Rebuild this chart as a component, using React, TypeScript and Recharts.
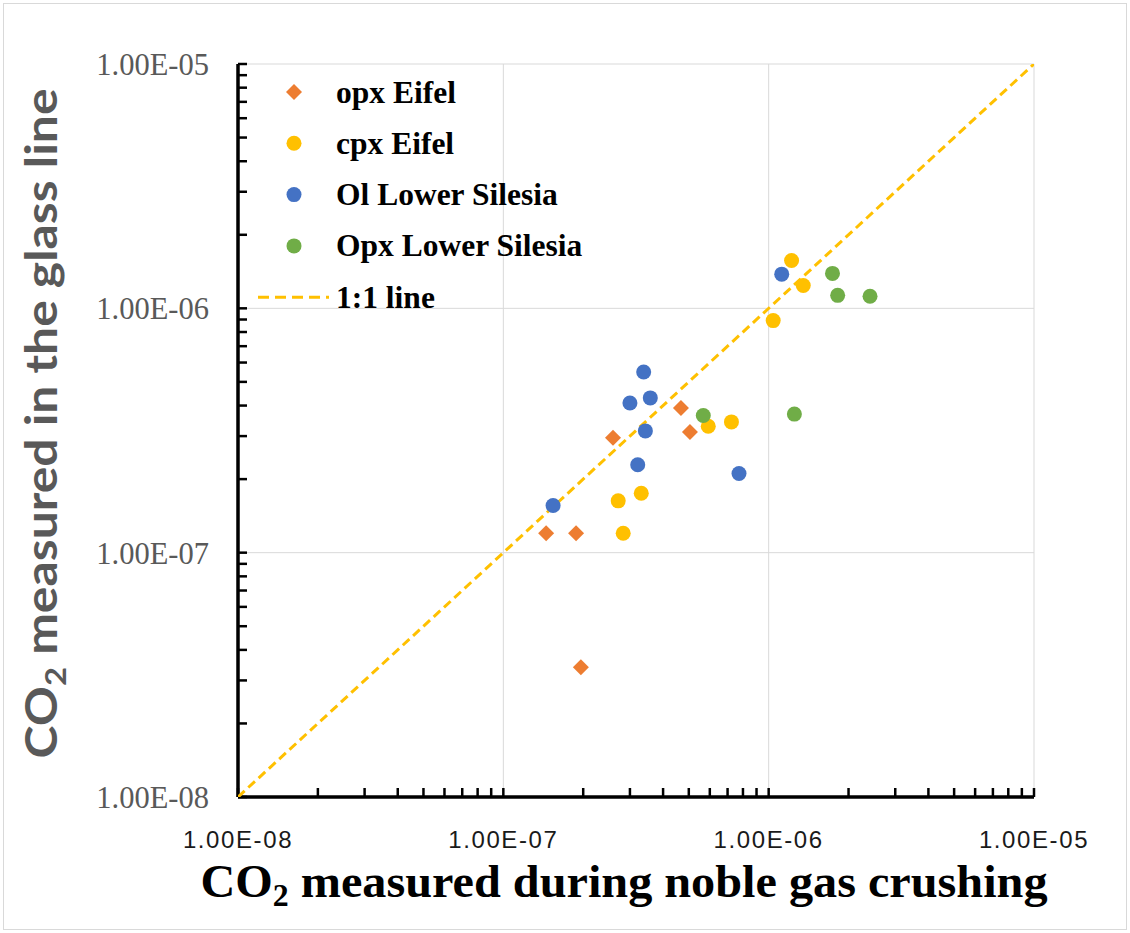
import React from 'react';
import { ScatterChart, Scatter, XAxis, YAxis, ReferenceLine, Legend } from 'recharts';

// ---- data ----
const opxEifelX = [1.45e-7, 1.88e-7, 2.59e-7, 4.67e-7, 5.05e-7, 1.96e-7];
const opxEifelY = [1.2e-7, 1.2e-7, 2.95e-7, 3.91e-7, 3.12e-7, 3.4e-8];

const cpxEifelX = [2.71e-7, 3.31e-7, 2.83e-7, 5.92e-7, 7.24e-7, 1.04e-6, 1.22e-6, 1.35e-6];
const cpxEifelY = [1.63e-7, 1.75e-7, 1.2e-7, 3.29e-7, 3.43e-7, 8.91e-7, 1.57e-6, 1.24e-6];

const olLowerSilesiaX = [3.38e-7, 3.0e-7, 3.58e-7, 3.43e-7, 3.21e-7, 1.54e-7, 7.73e-7, 1.12e-6];
const olLowerSilesiaY = [5.49e-7, 4.1e-7, 4.3e-7, 3.15e-7, 2.29e-7, 1.56e-7, 2.11e-7, 1.38e-6];

const opxLowerSilesiaX = [5.67e-7, 1.25e-6, 1.74e-6, 1.82e-6, 2.41e-6];
const opxLowerSilesiaY = [3.64e-7, 3.69e-7, 1.39e-6, 1.13e-6, 1.12e-6];

const oneToOneX = [1e-8, 1e-5];
const oneToOneY = [1e-8, 1e-5];

const majorTicks = [1e-8, 1e-7, 1e-6, 1e-5];
const minorMultipliers = [2, 3, 4, 5, 6, 7, 8, 9];

const xTitle = ['CO', '2', ' measured during noble gas crushing'];
const yTitle = ['CO', '2', ' measured in the glass line'];

// ---- helpers ----
const zip = (xs: number[], ys: number[]) => xs.map((x, i) => ({ x, y: ys[i] }));

const allTicks: number[] = [];
majorTicks.forEach((d, i) => {
  allTicks.push(d);
  if (i < majorTicks.length - 1) minorMultipliers.forEach((m) => allTicks.push(d * m));
});

const isMajor = (v: number) => Math.abs(Math.log10(v) - Math.round(Math.log10(v))) < 1e-6;
const fmt = (v: number) => {
  const e = Math.round(Math.log10(v));
  const sign = e < 0 ? '-' : '+';
  return `1.00E${sign}${String(Math.abs(e)).padStart(2, '0')}`;
};

const series = [
  { name: 'opx Eifel', color: '#ED7D31', kind: 'diamond', data: zip(opxEifelX, opxEifelY) },
  { name: 'cpx Eifel', color: '#FFC000', kind: 'circle', data: zip(cpxEifelX, cpxEifelY) },
  { name: 'Ol Lower Silesia', color: '#4472C4', kind: 'circle', data: zip(olLowerSilesiaX, olLowerSilesiaY) },
  { name: 'Opx Lower Silesia', color: '#70AD47', kind: 'circle', data: zip(opxLowerSilesiaX, opxLowerSilesiaY) },
];
const lineColor = '#FFC000';

const Marker = ({ cx, cy, kind, color }: any) => {
  if (cx == null || cy == null) return <g />;
  if (kind === 'diamond') {
    const r = 8;
    return <polygon points={`${cx},${cy - r} ${cx + r},${cy} ${cx},${cy + r} ${cx - r},${cy}`} fill={color} />;
  }
  return <circle cx={cx} cy={cy} r={7.5} fill={color} />;
};

const XTick = (props: any) => {
  const { x, y, payload } = props;
  if (!isMajor(payload.value)) return <g />;
  return (
    <text x={x} y={y + 60} textAnchor="middle" fontFamily="'Liberation Sans', Arial, sans-serif" fontSize={24} letterSpacing={1.6} fill="#1a1a1a">
      {fmt(payload.value)}
    </text>
  );
};

const YTick = (props: any) => {
  const { x, y, payload } = props;
  if (!isMajor(payload.value)) return <g />;
  return (
    <text x={x - 38} y={y + 11} textAnchor="end" fontFamily="'Liberation Serif', 'Times New Roman', serif" fontSize={30.5} fill="#595959">
      {fmt(payload.value)}
    </text>
  );
};

const XTitle = (props: any) => {
  const vb = props.viewBox || { x: 238, y: 797, width: 796, height: 60 };
  const cx = vb.x + vb.width / 2 - 12;
  const by = vb.y + 100;
  return (
    <text x={cx} y={by} textAnchor="middle" fontFamily="'Liberation Serif', 'Times New Roman', serif" fontWeight="bold" fontSize={47} fill="#000" textLength={847} lengthAdjust="spacingAndGlyphs">
      {xTitle[0]}
      <tspan fontSize={31} dy={9}>{xTitle[1]}</tspan>
      <tspan dy={-9}>{xTitle[2]}</tspan>
    </text>
  );
};

const YTitle = (props: any) => {
  const vb = props.viewBox || { x: 88, y: 64, width: 150, height: 733 };
  const bx = vb.x - 31;
  const cy = vb.y + vb.height / 2 - 7;
  return (
    <text x={bx} y={cy} transform={`rotate(-90, ${bx}, ${cy})`} textAnchor="middle" fontFamily="Lato, 'Open Sans', sans-serif" fontWeight="bold" fontSize={44} fill="#595959" textLength={670} lengthAdjust="spacingAndGlyphs">
      {yTitle[0]}
      <tspan fontSize={29} dy={9}>{yTitle[1]}</tspan>
      <tspan dy={-9}>{yTitle[2]}</tspan>
    </text>
  );
};

const LegendBox = () => {
  const rows = [...series.map((s) => ({ name: s.name, color: s.color, kind: s.kind })), { name: '1:1 line', color: lineColor, kind: 'line' }];
  return (
    <svg width={380} height={260} style={{ display: 'block' }}>
      {rows.map((r, i) => {
        const cy = 22 + i * 51.3;
        return (
          <g key={r.name}>
            {r.kind === 'line' ? (
              <line x1={8} x2={79} y1={cy} y2={cy} stroke={r.color} strokeWidth={3} strokeDasharray="11 6" />
            ) : (
              <Marker cx={44} cy={cy} kind={r.kind} color={r.color} />
            )}
            <text x={86} y={cy + 10.5} fontFamily="'Liberation Serif', 'Times New Roman', serif" fontWeight="bold" fontSize={31.5} fill="#000">
              {r.name}
            </text>
          </g>
        );
      })}
    </svg>
  );
};

export default function App() {
  return (
    <div style={{ position: 'absolute', left: 0, top: 0, width: 1130, height: 933, background: '#fff' }}>
      <div style={{ position: 'absolute', left: 3, top: 3, width: 1122, height: 925, border: '1px solid #d9d9d9' }} />
      <ScatterChart width={1130} height={933} margin={{ top: 64, right: 96, bottom: 76, left: 88 }}>
        <XAxis
          dataKey="x"
          type="number"
          scale="log"
          domain={[1e-8, 1e-5]}
          allowDataOverflow
          ticks={allTicks}
          interval={0}
          tickSize={-9}
          tickMargin={0}
          height={60}
          axisLine={{ stroke: '#000', strokeWidth: 3.5 }}
          tickLine={{ stroke: '#000', strokeWidth: 2.5 }}
          tick={<XTick />}
          label={<XTitle />}
        />
        <YAxis
          dataKey="y"
          type="number"
          scale="log"
          domain={[1e-8, 1e-5]}
          allowDataOverflow
          ticks={allTicks}
          interval={0}
          tickSize={-9}
          tickMargin={0}
          width={150}
          axisLine={{ stroke: '#000', strokeWidth: 3.5 }}
          tickLine={{ stroke: '#000', strokeWidth: 2.5 }}
          tick={<YTick />}
          label={<YTitle />}
        />
        {majorTicks.slice(1).map((t) => (
          <ReferenceLine key={`gx${t}`} x={t} stroke="#d9d9d9" strokeWidth={1} />
        ))}
        {majorTicks.slice(1).map((t) => (
          <ReferenceLine key={`gy${t}`} y={t} stroke="#d9d9d9" strokeWidth={1} />
        ))}
        <Legend
          layout="vertical"
          align="center"
          verticalAlign="middle"
          wrapperStyle={{ position: 'absolute', left: 250, top: 70, width: 380, height: 260 }}
          content={() => <LegendBox />}
        />
        <Scatter
          name="1:1 line"
          data={zip(oneToOneX, oneToOneY)}
          line={{ stroke: lineColor, strokeWidth: 3, strokeDasharray: '9 5' }}
          lineType="joint"
          shape={() => <g />}
          isAnimationActive={false}
        />
        {series.map((s) => (
          <Scatter
            key={s.name}
            name={s.name}
            data={s.data}
            fill={s.color}
            shape={(p: any) => <Marker cx={p.cx} cy={p.cy} kind={s.kind} color={s.color} />}
            isAnimationActive={false}
          />
        ))}
      </ScatterChart>
    </div>
  );
}
